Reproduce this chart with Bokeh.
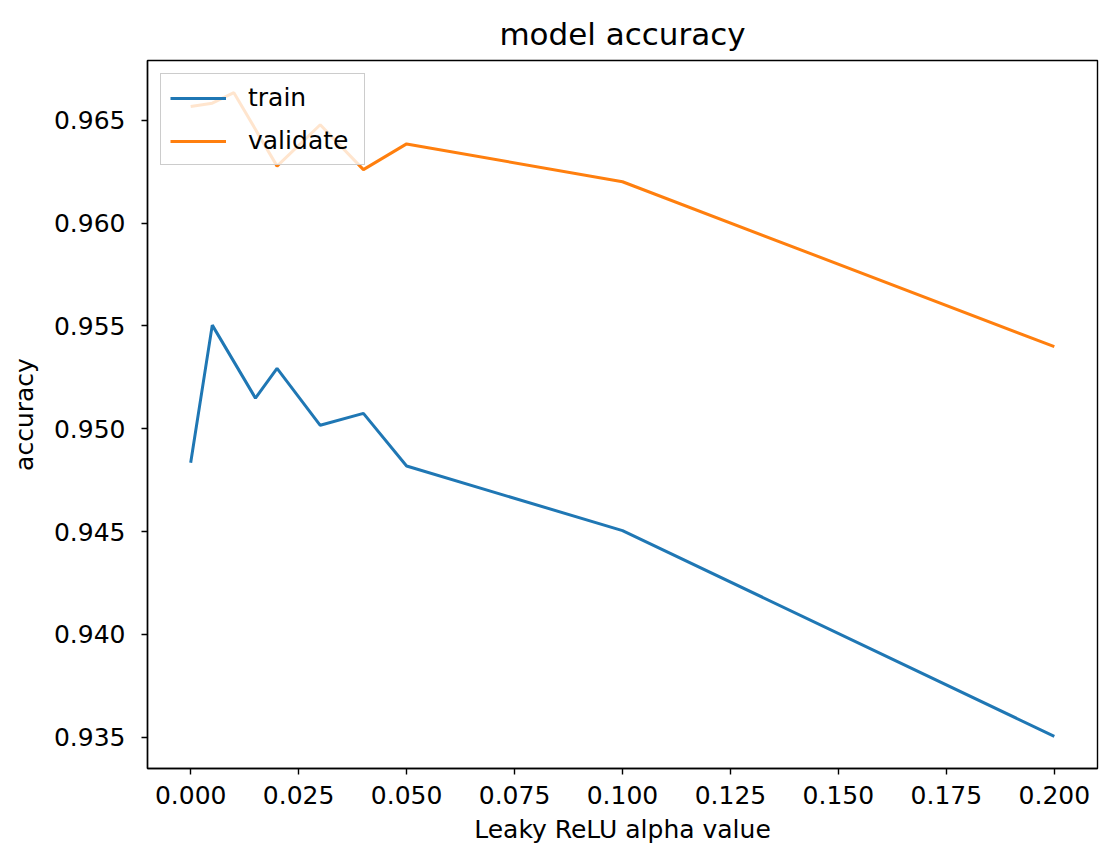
from bokeh.plotting import figure
from bokeh.models import Range1d, FixedTicker, NumeralTickFormatter, Legend, LegendItem
from bokeh.embed import file_html
from bokeh.resources import INLINE

# ---- data ----
alpha_train = [0.0, 0.005, 0.015, 0.02, 0.03, 0.04, 0.05, 0.1, 0.2]
acc_train = [0.94835, 0.95504, 0.95149, 0.95294, 0.95017, 0.95075, 0.94819, 0.94505, 0.93505]

alpha_val = [0.0, 0.005, 0.01, 0.02, 0.03, 0.04, 0.05, 0.1, 0.2]
acc_val = [0.96567, 0.96583, 0.96634, 0.96277, 0.96478, 0.96260, 0.96385, 0.96201, 0.95399]

series_names = ["train", "validate"]
x_ticks = [0.0, 0.025, 0.05, 0.075, 0.1, 0.125, 0.15, 0.175, 0.2]
y_ticks = [0.935, 0.940, 0.945, 0.950, 0.955, 0.960, 0.965]

TITLE = "model accuracy"
XLABEL = "Leaky ReLU alpha value"
YLABEL = "accuracy"

# ---- ranges with matplotlib-like 5% margins ----
all_x = alpha_train + alpha_val
all_y = acc_train + acc_val
xspan = max(all_x) - min(all_x)
yspan = max(all_y) - min(all_y)
x_range = Range1d(min(all_x) - 0.05 * xspan, max(all_x) + 0.05 * xspan)
y_range = Range1d(min(all_y) - 0.05 * yspan, max(all_y) + 0.05 * yspan)

FONT = "DejaVu Sans"

p = figure(width=1099, height=851, output_backend="svg", toolbar_location=None,
           x_range=x_range, y_range=y_range, title=TITLE,
           min_border_left=147, min_border_right=2, min_border_top=60, min_border_bottom=83)

p.title.align = "center"
p.title.text_font = FONT
p.title.text_font_size = "31px"
p.title.text_font_style = "normal"
p.title.text_color = "black"
p.title.standoff = 18

p.xgrid.visible = False
p.ygrid.visible = False
p.outline_line_color = "black"
p.outline_line_width = 1.4
p.outline_line_alpha = 1.0
p.background_fill_color = "white"
p.border_fill_color = "white"

for ax in (p.xaxis[0], p.yaxis[0]):
    ax.axis_line_color = "black"
    ax.axis_line_width = 1.4
    ax.major_tick_line_color = "black"
    ax.major_tick_line_width = 1.4
    ax.major_tick_out = 6
    ax.major_tick_in = 0
    ax.minor_tick_line_color = None
    ax.major_label_text_font = FONT
    ax.major_label_text_font_size = "25px"
    ax.major_label_text_color = "black"
    ax.axis_label_text_font = FONT
    ax.axis_label_text_font_size = "25px"
    ax.axis_label_text_font_style = "normal"
    ax.axis_label_text_color = "black"
    ax.formatter = NumeralTickFormatter(format="0.000")

p.xaxis[0].major_label_standoff = 11
p.xaxis[0].axis_label_standoff = 8
p.yaxis[0].major_label_standoff = 16
p.yaxis[0].axis_label_standoff = 12

p.xaxis[0].ticker = FixedTicker(ticks=x_ticks)
p.yaxis[0].ticker = FixedTicker(ticks=y_ticks)
p.xaxis[0].axis_label = XLABEL
p.yaxis[0].axis_label = YLABEL

r_train = p.line(alpha_train, acc_train, line_color="#1f77b4", line_width=3)
r_val = p.line(alpha_val, acc_val, line_color="#ff7f0e", line_width=3)

legend = Legend(items=[LegendItem(label=series_names[0], renderers=[r_train]),
                       LegendItem(label=series_names[1], renderers=[r_val])],
                location="top_left")
legend.background_fill_color = "white"
legend.background_fill_alpha = 0.8
legend.border_line_color = "#cccccc"
legend.border_line_width = 1.4
legend.border_line_alpha = 1.0
legend.label_text_font = FONT
legend.label_text_font_size = "25px"
legend.label_text_color = "black"
legend.glyph_width = 56
legend.glyph_height = 26
legend.label_height = 26
legend.label_width = 107
legend.label_standoff = 22
legend.spacing = 14
legend.padding = 9
legend.margin = 13
p.add_layout(legend)

open("out.html", "w").write(file_html(p, INLINE))
